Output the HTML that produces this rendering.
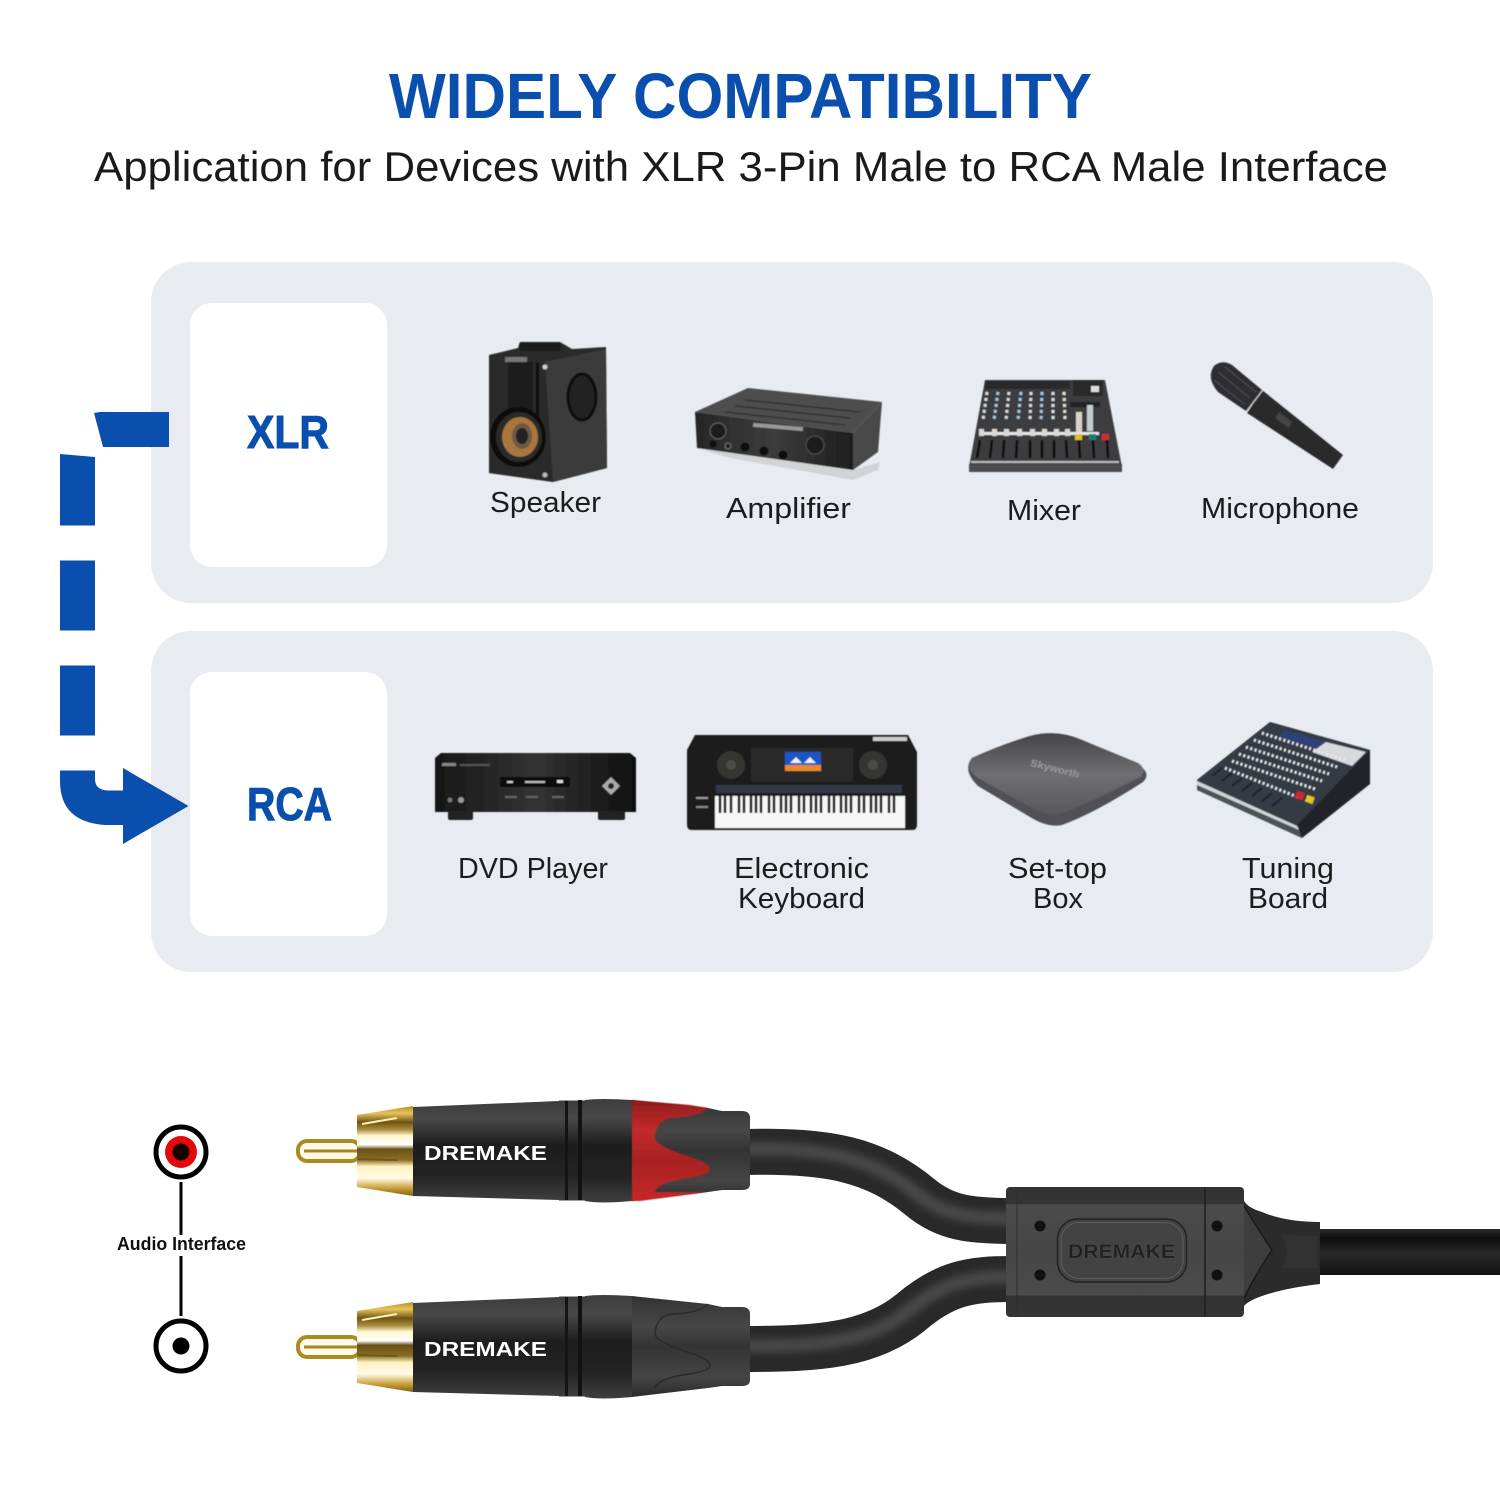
<!DOCTYPE html>
<html>
<head>
<meta charset="utf-8">
<style>
html,body{margin:0;padding:0;background:#fff;width:1500px;height:1500px;overflow:hidden}
svg{display:block}
text{font-family:"Liberation Sans",sans-serif}
</style>
</head>
<body>
<svg width="1500" height="1500" viewBox="0 0 1500 1500" xmlns="http://www.w3.org/2000/svg">
<defs>
<filter id="b" x="-10%" y="-10%" width="120%" height="120%"><feGaussianBlur stdDeviation="0.6"/></filter>
<filter id="b2" x="-10%" y="-10%" width="120%" height="120%"><feGaussianBlur stdDeviation="0.8"/></filter>
<filter id="b3" x="-20%" y="-20%" width="140%" height="140%"><feGaussianBlur stdDeviation="4"/></filter>
<linearGradient id="gold" x1="0" y1="0" x2="0" y2="1">
<stop offset="0" stop-color="#b98d22"/><stop offset=".08" stop-color="#e8c45a"/><stop offset=".18" stop-color="#6f5412"/>
<stop offset=".26" stop-color="#a88a3c"/><stop offset=".33" stop-color="#fff6d0"/><stop offset=".43" stop-color="#fff"/><stop offset=".48" stop-color="#6a5014"/>
<stop offset=".6" stop-color="#8a6e26"/><stop offset=".67" stop-color="#fff2c2"/><stop offset=".8" stop-color="#fffbe6"/>
<stop offset=".92" stop-color="#c69a30"/><stop offset="1" stop-color="#7f5f12"/>
</linearGradient>
<linearGradient id="blk" x1="0" y1="0" x2="0" y2="1">
<stop offset="0" stop-color="#3d3d3d"/><stop offset=".18" stop-color="#484848"/><stop offset=".45" stop-color="#1d1d1d"/>
<stop offset=".75" stop-color="#232323"/><stop offset="1" stop-color="#3e3e3e"/>
</linearGradient>
<linearGradient id="grey" x1="0" y1="0" x2="0" y2="1">
<stop offset="0" stop-color="#333"/><stop offset=".3" stop-color="#474747"/><stop offset=".5" stop-color="#333"/>
<stop offset=".8" stop-color="#454545"/><stop offset="1" stop-color="#2a2a2a"/>
</linearGradient>
<linearGradient id="red" x1="0" y1="0" x2="0" y2="1">
<stop offset="0" stop-color="#8f1d1d"/><stop offset=".3" stop-color="#c42a2a"/><stop offset=".6" stop-color="#a82222"/>
<stop offset="1" stop-color="#c62828"/>
</linearGradient>
<linearGradient id="tail" x1="0" y1="0" x2="0" y2="1">
<stop offset="0" stop-color="#2a2a2a"/><stop offset=".2" stop-color="#0c0c0c"/><stop offset=".55" stop-color="#2a2a2a"/>
<stop offset=".8" stop-color="#1b1b1b"/><stop offset="1" stop-color="#111"/>
</linearGradient>
<linearGradient id="boxg" x1="0" y1="0" x2="0" y2="1">
<stop offset="0" stop-color="#323232"/><stop offset=".13" stop-color="#343434"/><stop offset=".135" stop-color="#4b4b4b"/>
<stop offset=".5" stop-color="#464646"/><stop offset=".83" stop-color="#4b4b4b"/><stop offset=".84" stop-color="#323232"/><stop offset="1" stop-color="#343434"/>
</linearGradient>
<linearGradient id="stb" x1="0" y1="0" x2="0" y2="1">
<stop offset="0" stop-color="#454547"/><stop offset=".5" stop-color="#6f6f72"/><stop offset="1" stop-color="#58585a"/>
</linearGradient>
<linearGradient id="amp" x1="0" y1="0" x2="1" y2="0">
<stop offset="0" stop-color="#262626"/><stop offset=".5" stop-color="#3c3c3c"/><stop offset="1" stop-color="#1e1e1e"/>
</linearGradient>
<linearGradient id="dvd" x1="0" y1="0" x2="1" y2="0">
<stop offset="0" stop-color="#171717"/><stop offset=".5" stop-color="#333"/><stop offset="1" stop-color="#101010"/>
</linearGradient>
</defs>

<rect width="1500" height="1500" fill="#fff"/>

<!-- Heading -->
<text x="389" y="118" font-size="64" font-weight="700" fill="#0a4fae" textLength="703" lengthAdjust="spacingAndGlyphs">WIDELY COMPATIBILITY</text>
<text x="94" y="181" font-size="42" fill="#1a1a1a" textLength="1294" lengthAdjust="spacingAndGlyphs">Application for Devices with XLR 3-Pin Male to RCA Male Interface</text>

<!-- Panels -->
<rect x="151" y="262" width="1282" height="341" rx="40" fill="#e8ecf1"/>
<rect x="151" y="631" width="1282" height="341" rx="40" fill="#e8ecf1"/>
<rect x="190" y="303" width="197" height="264" rx="22" fill="#fff"/>
<rect x="190" y="672" width="197" height="264" rx="22" fill="#fff"/>
<text x="247" y="448" font-size="46" font-weight="700" fill="#0a4fae" stroke="#0a4fae" stroke-width="1" textLength="82" lengthAdjust="spacingAndGlyphs">XLR</text>
<text x="247" y="820" font-size="46" font-weight="700" fill="#0a4fae" stroke="#0a4fae" stroke-width="1" textLength="85" lengthAdjust="spacingAndGlyphs">RCA</text>

<!-- Dashed arrow -->
<g fill="#0a4fae">
<polygon points="94,413 100,412 169,412 169,447 103,447"/>
<polygon points="60,454 95,457 95,525.5 60,525.5"/>
<rect x="60" y="560.5" width="35" height="70"/>
<rect x="60" y="665.5" width="35" height="70"/>
<path d="M60 770.5H95V779Q95 790 108 790.5H123V768L188.500 806L123 844V825H105Q60 822 60 781Z"/>
</g>

<!-- Speaker -->
<g filter="url(#b)">
<polygon points="489,355 518,348 520,342 560,342 572,349 606,347 607,468 553,482 489,473" fill="#2c2c2c"/>
<polygon points="545,362 606,349 607,468 553,482" fill="#3a3a3a"/>
<polygon points="489,355 535,360 545,362 553,482 489,473" fill="#2a2a2a"/>
<rect x="519" y="342" width="42" height="9" rx="3" fill="#1d1d1d"/>
<rect x="508" y="362" width="25" height="60" fill="#1a1a1a"/>
<rect x="536" y="363" width="3" height="60" fill="#111"/>
<rect x="505" y="357" width="22" height="5" fill="#777"/>
<circle cx="545" cy="367" r="2.500" fill="#ccc"/><circle cx="545" cy="475" r="2.500" fill="#bbb"/>
<ellipse cx="518" cy="437" rx="28" ry="30" fill="#111"/>
<ellipse cx="519" cy="437" rx="23" ry="25" fill="#2a2a2a"/>
<ellipse cx="520" cy="437" rx="18" ry="20" fill="#a9773c"/>
<ellipse cx="522" cy="436" rx="10" ry="13" fill="#6c5a44"/>
<ellipse cx="522" cy="436" rx="6" ry="8" fill="#222"/>
<ellipse cx="582" cy="397" rx="14" ry="23" fill="#222" stroke="#111" stroke-width="3"/>
</g>

<!-- Amplifier -->
<g filter="url(#b)">
<polygon points="697,448 853,470 880,462 878,470 853,480 730,458" fill="#d2d3d5"/>
<polygon points="695,412 748,388 882,402 853,433" fill="#4e4e4e"/>
<g stroke="#2c2c2c" stroke-width="1.500" opacity=".8"><line x1="745" y1="400" x2="860" y2="412"/><line x1="735" y1="406" x2="850" y2="418"/><line x1="725" y1="412" x2="845" y2="425"/></g>
<polygon points="853,433 882,402 878,452 853,470" fill="#4a4a4a"/>
<polygon points="695,412 853,433 853,470 697,448" fill="url(#amp)"/>
<rect x="753" y="425" width="50" height="4" fill="#999" transform="rotate(5 778 427)"/>
<circle cx="718" cy="431" r="8" fill="#1a1a1a" stroke="#666"/>
<circle cx="815" cy="445" r="9" fill="#1a1a1a" stroke="#555"/>
<circle cx="745" cy="447" r="4.500" fill="#0c0c0c"/><circle cx="764" cy="451" r="4.500" fill="#0c0c0c"/><circle cx="783" cy="455" r="4.500" fill="#0c0c0c"/>
<circle cx="713" cy="444" r="3.500" fill="#111"/><circle cx="728" cy="446" r="3" fill="#222" stroke="#777"/>
</g>

<!-- Mixer -->
<g filter="url(#b)">
<polygon points="985,380 1105,380 1122,467 1122,472 969,472 969,467" fill="#3e3e40"/>
<polygon points="969,464 1122,464 1122,472 969,472" fill="#4c4c4e"/>
<rect x="971" y="461" width="148" height="2" fill="#bbb"/>
<rect x="985" y="381" width="85" height="8" fill="#2a2a2c"/>
<g stroke-width="3" fill="none" stroke-dasharray="3 3">
<path d="M987 392L983 420" stroke="#d8dde2"/>
<path d="M998 392L994 420" stroke="#a9c8e0"/>
<path d="M1009 392L1006 420" stroke="#d8dde2"/>
<path d="M1021 392L1018 420" stroke="#a9c8e0"/>
<path d="M1031 392L1030 420" stroke="#d8dde2"/>
<path d="M1042 392L1041 420" stroke="#a9c8e0"/>
<path d="M1053 392L1053 420" stroke="#d8dde2"/>
<path d="M1064 392L1065 420" stroke="#e4e0c8"/>
</g>
<rect x="979" y="432" width="120" height="3" fill="#e6e6e6"/>
<g fill="#d8d8d8"><rect x="979" y="429" width="5" height="7"/><rect x="992" y="429" width="5" height="7"/><rect x="1004" y="429" width="5" height="7"/><rect x="1017" y="429" width="5" height="7"/><rect x="1030" y="429" width="5" height="7"/><rect x="1042" y="429" width="5" height="7"/><rect x="1054" y="429" width="5" height="7"/><rect x="1065" y="429" width="5" height="7"/></g>
<g stroke="#0c0c0c" stroke-width="2.500"><line x1="980" y1="440" x2="977" y2="458"/><line x1="992" y1="440" x2="990" y2="458"/><line x1="1004" y1="440" x2="1003" y2="458"/><line x1="1017" y1="440" x2="1016" y2="458"/><line x1="1030" y1="440" x2="1030" y2="458"/><line x1="1042" y1="440" x2="1042" y2="458"/><line x1="1054" y1="440" x2="1054" y2="458"/><line x1="1066" y1="440" x2="1067" y2="458"/><line x1="1079" y1="440" x2="1080" y2="458"/><line x1="1093" y1="440" x2="1094" y2="458"/><line x1="1107" y1="440" x2="1108" y2="458"/></g>
<rect x="1073" y="380" width="30" height="16" fill="#2a2a2a"/>
<rect x="1091" y="386" width="8" height="6" fill="#ddd"/>
<rect x="1070" y="402" width="30" height="5" fill="#222"/>
<rect x="1076" y="412" width="6" height="20" fill="#d7d5c6"/><rect x="1087" y="405" width="6" height="26" fill="#c6ccd0"/>
<rect x="1075" y="434" width="7" height="6" fill="#e2c029"/><rect x="1089" y="434" width="7" height="6" fill="#1f7f77"/><rect x="1102" y="434" width="7" height="6" fill="#cf2e2e"/>
</g>

<!-- Microphone -->
<g filter="url(#b)">
<polygon points="1262,390 1343,455 1333,469 1247,413" fill="#29292b"/>
<polygon points="1275,418 1289,428 1292,422 1279,412" fill="#444"/>
<line x1="1262" y1="390" x2="1246" y2="411" stroke="#c8c8c8" stroke-width="2.500"/>
<path d="M1214 366Q1222 359 1232 365L1262 390L1246 411L1218 392Q1206 378 1214 366Z" fill="#2e2e30"/>
<g stroke="#606060" stroke-width="1" opacity=".7"><line x1="1218" y1="372" x2="1250" y2="398"/><line x1="1214" y1="380" x2="1244" y2="404"/><line x1="1225" y1="367" x2="1256" y2="392"/></g>
</g>

<!-- DVD Player -->
<g filter="url(#b)">
<polygon points="435,758 441,753 630,753 636,758 636,812 435,812" fill="url(#dvd)"/>
<rect x="448" y="811" width="25" height="9" rx="2" fill="#222"/>
<rect x="598" y="811" width="27" height="9" rx="2" fill="#222"/>
<rect x="500" y="777" width="70" height="10" fill="#0a0a0a"/>
<rect x="507" y="781" width="6" height="2" fill="#ccc"/><rect x="525" y="781" width="20" height="2" fill="#bbb"/><rect x="557" y="780" width="6" height="3" fill="#ddd"/>
<rect x="442" y="763" width="14" height="3" fill="#888"/><rect x="460" y="764" width="30" height="2" fill="#555"/>
<polygon points="611,777 620,786 611,795 602,786" fill="#aaa"/><circle cx="611" cy="786" r="3" fill="#222"/>
<circle cx="461" cy="800" r="3" fill="#999"/><circle cx="450" cy="800" r="2.500" fill="#777"/>
<rect x="505" y="796" width="12" height="2" fill="#666"/><rect x="526" y="796" width="12" height="2" fill="#666"/><rect x="552" y="796" width="12" height="2" fill="#666"/>
</g>

<!-- Electronic Keyboard -->
<g filter="url(#b)">
<path d="M695 735H908L917 752V825Q917 830 912 830H692Q687 830 687 825V750Z" fill="#1f1f1f"/>
<circle cx="731" cy="765" r="14" fill="#363632"/><circle cx="731" cy="765" r="5" fill="#4c4c48"/>
<circle cx="873" cy="765" r="14" fill="#363632"/><circle cx="873" cy="765" r="5" fill="#4c4c48"/>
<rect x="751" y="748" width="102" height="34" fill="#2a2a2c"/>
<rect x="785" y="752" width="36" height="19" fill="#1c55c8"/>
<rect x="785" y="765" width="36" height="6" fill="#ea8a2a"/>
<path d="M790 763l6-6 6 6zM804 763l6-6 6 6z" fill="#f0f0f0"/>
<rect x="716" y="785" width="186" height="8" fill="#333846"/>
<rect x="715" y="796" width="190" height="32" fill="#f7f7f7"/>
<path d="M720 796v17M725 796v17M731 796v17M739 796v17M744 796v17M751 796v17M756 796v17M761 796v17M769 796v17M774 796v17M781 796v17M786 796v17M791 796v17M799 796v17M804 796v17M811 796v17M816 796v17M821 796v17M829 796v17M834 796v17M841 796v17M846 796v17M851 796v17M859 796v17M864 796v17M871 796v17M876 796v17M881 796v17M889 796v17M894 796v17" stroke="#111" stroke-width="2.500"/>
<rect x="696" y="797" width="12" height="2" fill="#999"/><rect x="696" y="806" width="12" height="2" fill="#888"/>
<rect x="873" y="737" width="34" height="4" fill="#ccc"/>
</g>

<!-- Set-top Box -->
<g filter="url(#b)">
<path d="M972 758Q1000 745 1030 736Q1057 729 1082 740L1138 765Q1152 773 1143 782Q1095 813 1062 825Q1048 828 1030 817L978 786Q962 770 972 758Z" fill="#515154"/>
<path d="M972 758Q1000 745 1030 736Q1057 729 1082 740L1138 763Q1148 770 1140 777Q1090 803 1058 815Q1046 816 1030 807L978 778Q964 768 972 758Z" fill="url(#stb)"/>
<text x="1030" y="772" font-size="10" font-weight="700" fill="#9a9a9c" transform="rotate(14 1055 768)" textLength="50" lengthAdjust="spacingAndGlyphs">Skyworth</text>
</g>

<!-- Tuning Board -->
<g filter="url(#b)">
<polygon points="1270,722 1370,750 1370,784 1302,838 1197,790 1197,780" fill="#20242b"/>
<polygon points="1270,722 1370,750 1297,825 1197,780" fill="#343a44"/>
<polygon points="1197,780 1297,825 1302,838 1197,790" fill="#4e5258"/>
<polygon points="1197,781 1297,826 1299,830 1197,785" fill="#d2d4d6"/>
<polygon points="1285,730 1325,742 1318,749 1278,737" fill="#2d3f7a"/>
<polygon points="1326,742 1366,752 1352,766 1312,752" fill="#d7d9dc"/>
<g stroke="#e8eaec" stroke-width="3" stroke-dasharray="2 2.500" fill="none">
<line x1="1262" y1="733" x2="1345" y2="760"/><line x1="1254" y1="740" x2="1337" y2="767"/><line x1="1246" y1="747" x2="1329" y2="774"/><line x1="1239" y1="754" x2="1322" y2="781"/>
<line x1="1232" y1="761" x2="1315" y2="789"/><line x1="1225" y1="768" x2="1300" y2="798"/></g>
<g stroke="#1a2029" stroke-width="2"><line x1="1212" y1="776" x2="1222" y2="768"/><line x1="1222" y1="781" x2="1232" y2="773"/><line x1="1232" y1="786" x2="1242" y2="778"/><line x1="1242" y1="791" x2="1252" y2="783"/><line x1="1252" y1="796" x2="1262" y2="788"/><line x1="1262" y1="801" x2="1272" y2="793"/><line x1="1272" y1="806" x2="1282" y2="798"/></g>
<rect x="1296" y="792" width="8" height="7" fill="#cf2b32" transform="rotate(20 1300 795)"/>
<rect x="1306" y="796" width="8" height="7" fill="#e4c22c" transform="rotate(20 1310 799)"/>
</g>

<!-- Device labels -->
<g font-size="29" fill="#1c1c1c">
<text x="490" y="512" textLength="111" lengthAdjust="spacingAndGlyphs">Speaker</text>
<text x="726" y="518" textLength="125" lengthAdjust="spacingAndGlyphs">Amplifier</text>
<text x="1007" y="520" textLength="74" lengthAdjust="spacingAndGlyphs">Mixer</text>
<text x="1201" y="518" textLength="158" lengthAdjust="spacingAndGlyphs">Microphone</text>
<text x="458" y="878" textLength="150" lengthAdjust="spacingAndGlyphs">DVD Player</text>
<text x="734" y="878" textLength="135" lengthAdjust="spacingAndGlyphs">Electronic</text>
<text x="738" y="908" textLength="127" lengthAdjust="spacingAndGlyphs">Keyboard</text>
<text x="1008" y="878" textLength="99" lengthAdjust="spacingAndGlyphs">Set-top</text>
<text x="1033" y="908" textLength="50" lengthAdjust="spacingAndGlyphs">Box</text>
<text x="1242" y="878" textLength="92" lengthAdjust="spacingAndGlyphs">Tuning</text>
<text x="1248" y="908" textLength="80" lengthAdjust="spacingAndGlyphs">Board</text>
</g>

<!-- Audio interface symbols -->
<circle cx="181" cy="1152" r="25" fill="#fff" stroke="#000" stroke-width="5"/>
<circle cx="181" cy="1152" r="16" fill="#e20a0a"/>
<circle cx="181" cy="1152" r="8.500" fill="#170000"/>
<circle cx="181" cy="1346" r="25" fill="#fff" stroke="#000" stroke-width="5"/>
<circle cx="181" cy="1346" r="8.500" fill="#000"/>
<rect x="179.500" y="1182" width="3" height="53" fill="#000"/>
<rect x="179.500" y="1256" width="3" height="60" fill="#000"/>
<text x="117" y="1250" font-size="18" font-weight="700" fill="#111" textLength="129" lengthAdjust="spacingAndGlyphs">Audio Interface</text>

<!-- Cables -->
<g fill="none" stroke-linecap="butt">
<path d="M745 1152C830 1150 875 1160 920 1197C945 1218 970 1221 1012 1221" stroke="#292929" stroke-width="46"/>
<path d="M745 1149C830 1147 875 1160 917 1194C945 1216 970 1218 1012 1218" stroke="#4a4a4a" stroke-width="13" filter="url(#b3)"/>
<path d="M745 1349C820 1349 870 1345 910 1313C945 1283 970 1279 1012 1279" stroke="#292929" stroke-width="46"/>
<path d="M745 1346C820 1346 868 1343 908 1311C945 1281 970 1277 1012 1277" stroke="#4a4a4a" stroke-width="13" filter="url(#b3)"/>
</g>

<!-- Tail cable -->
<rect x="1318" y="1229" width="182" height="46" fill="url(#tail)"/>
<path d="M1243 1198Q1245 1207 1262 1212Q1285 1222 1320 1222V1284Q1285 1288 1262 1296Q1245 1302 1243 1308Z" fill="#2b2b2b"/>
<path d="M1243 1204Q1255 1225 1272 1250Q1255 1275 1243 1300" fill="#3e3e3e" stroke="#1a1a1a" stroke-width="1.500"/>
<path d="M1282 1234Q1300 1236 1318 1236V1268Q1300 1268 1282 1268Q1290 1252 1282 1234Z" fill="#3a3a3a" opacity=".45" filter="url(#b)"/>

<!-- Junction box -->
<rect x="1006" y="1187" width="238" height="130" rx="4" fill="url(#boxg)"/>
<line x1="1017" y1="1187" x2="1017" y2="1317" stroke="#2f2f2f" stroke-width="1"/>
<line x1="1205" y1="1187" x2="1205" y2="1317" stroke="#1e1e1e" stroke-width="1.500"/>
<g fill="#111"><circle cx="1040" cy="1226" r="5.500"/><circle cx="1217" cy="1226" r="5.500"/><circle cx="1040" cy="1275" r="5.500"/><circle cx="1217" cy="1275" r="5.500"/></g>
<rect x="1057.500" y="1219" width="129" height="63" rx="20" fill="#434343" stroke="#222" stroke-width="1.500"/>
<rect x="1061" y="1222.500" width="122" height="56" rx="18" fill="none" stroke="#5c5c5c" stroke-width="1"/>
<text x="1068" y="1258" font-size="19" font-weight="700" fill="#1f1f1f" stroke="#555" stroke-width=".3" textLength="107" lengthAdjust="spacingAndGlyphs">DREMAKE</text>

<!-- Plug top -->
<g id="plug">
<rect x="298" y="1141" width="62" height="20" rx="9" fill="#fffbe8" stroke="#ad8a20" stroke-width="4"/>
<rect x="304" y="1149.500" width="55" height="3" fill="#a88425"/>
<polygon points="357,1115 413,1106 413,1196 357,1187" fill="url(#gold)"/>
<line x1="362" y1="1124" x2="397" y2="1118" stroke="#fff1b8" stroke-width="2"/>
<line x1="358" y1="1159" x2="397" y2="1160" stroke="#6e581c" stroke-width="2"/>
<path d="M413 1107L559 1101V1200L413 1196Z" fill="url(#blk)"/>
<rect x="559" y="1100.500" width="26" height="100" fill="url(#blk)"/>
<rect x="565" y="1101" width="3" height="99" fill="#141414"/>
<rect x="578" y="1100" width="4" height="100" fill="#121212"/>
<path d="M585 1100Q600 1098 632 1100V1201Q600 1204 585 1201Z" fill="url(#blk)"/>
<path d="M632 1100L708 1108L722 1111H742Q750 1111 750 1118V1184Q750 1190 742 1190H722L708 1192L632 1201Z" fill="url(#grey)"/>
</g>
<path d="M632 1100L690 1105L708 1108Q700 1117 672 1118Q656 1120 655 1138Q656 1146 690 1157Q710 1163 710 1170Q708 1175 690 1178Q658 1182 655 1192L708 1192L640 1201L632 1201Z" fill="url(#red)" filter="url(#b)"/>
<text x="424" y="1160" font-size="20.500" font-weight="700" fill="#fff" textLength="123" lengthAdjust="spacingAndGlyphs">DREMAKE</text>

<!-- Plug bottom -->
<g transform="translate(0 196)">
<rect x="298" y="1141" width="62" height="20" rx="9" fill="#fffbe8" stroke="#ad8a20" stroke-width="4"/>
<rect x="304" y="1149.500" width="55" height="3" fill="#a88425"/>
<polygon points="357,1115 413,1106 413,1196 357,1187" fill="url(#gold)"/>
<line x1="362" y1="1124" x2="397" y2="1118" stroke="#fff1b8" stroke-width="2"/>
<line x1="358" y1="1159" x2="397" y2="1160" stroke="#6e581c" stroke-width="2"/>
<path d="M413 1107L559 1101V1200L413 1196Z" fill="url(#blk)"/>
<rect x="559" y="1100.500" width="26" height="100" fill="url(#blk)"/>
<rect x="565" y="1101" width="3" height="99" fill="#141414"/>
<rect x="578" y="1100" width="4" height="100" fill="#121212"/>
<path d="M585 1100Q600 1098 632 1100V1201Q600 1204 585 1201Z" fill="url(#blk)"/>
<path d="M632 1100L708 1108L722 1111H742Q750 1111 750 1118V1184Q750 1190 742 1190H722L708 1192L632 1201Z" fill="url(#grey)"/>
<path d="M708 1108Q700 1117 672 1118Q656 1120 655 1138Q656 1146 690 1157Q710 1163 710 1170Q708 1175 690 1178Q658 1182 655 1192" fill="none" stroke="#2a2a2a" stroke-width="1.500"/>
</g>
<text x="424" y="1356" font-size="20.500" font-weight="700" fill="#fff" textLength="123" lengthAdjust="spacingAndGlyphs">DREMAKE</text>
</svg>
</body>
</html>
